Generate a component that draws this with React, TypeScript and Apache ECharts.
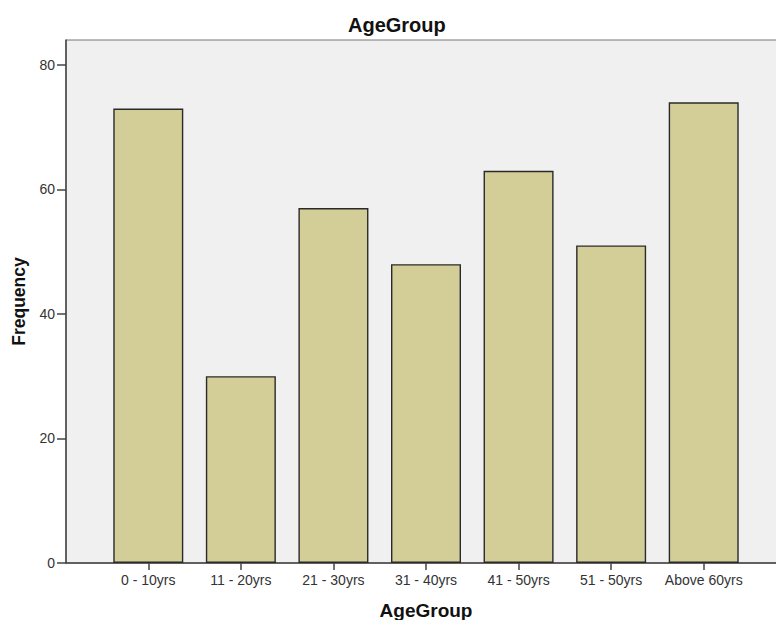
import React, { useEffect, useRef } from "react";
import * as echarts from "echarts";

const categories = ["0 - 10yrs", "11 - 20yrs", "21 - 30yrs", "31 - 40yrs", "41 - 50yrs", "51 - 50yrs", "Above 60yrs"];
const frequencies = [73, 30, 57, 48, 63, 51, 74];
const yTicks = [0, 20, 40, 60, 80];
const titleText = "AgeGroup";
const xName = "AgeGroup";
const yName = "Frequency";

const FONT = "'Liberation Sans', Arial, sans-serif";

export default function App() {
  const ref = useRef<HTMLDivElement>(null);
  useEffect(() => {
    document.body.style.margin = "0";
    const chart = echarts.init(ref.current!, null, { renderer: "svg" });
    const top = 40;
    const bottom = 57;
    chart.setOption({
      animation: false,
      textStyle: { fontFamily: FONT },
      title: {
        text: titleText,
        left: 343,
        top: 10,
        textStyle: { fontFamily: FONT, fontSize: 20, fontWeight: "bold", color: "#111" },
      },
      grid: [
        {
          left: 66, right: -5, top, bottom, outerBoundsMode: "none", containLabel: false,
          show: true, backgroundColor: "#F0F0F0", borderColor: "#777", borderWidth: 1,
        },
        { left: 102, right: 26, top, bottom, outerBoundsMode: "none", containLabel: false },
      ],
      xAxis: [
        {
          gridIndex: 0, type: "value", min: 0, max: 1,
          axisLine: { show: true, lineStyle: { color: "#444", width: 1.5 } },
          axisTick: { show: false }, axisLabel: { show: false }, splitLine: { show: false },
        },
        {
          gridIndex: 1, type: "category", data: categories,
          name: xName, nameLocation: "middle", nameGap: 38,
          nameTextStyle: { fontFamily: FONT, fontSize: 19, fontWeight: "bold", color: "#111" },
          axisLine: { show: false },
          axisTick: { show: true, alignWithLabel: true, length: 7, lineStyle: { color: "#444", width: 1.5 } },
          axisLabel: { fontFamily: FONT, fontSize: 14, color: "#333", margin: 10, interval: 0 },
        },
      ],
      yAxis: [
        {
          gridIndex: 0, type: "value", min: 0, max: 84,
          name: yName, nameLocation: "middle", nameGap: 38,
          nameTextStyle: { fontFamily: FONT, fontSize: 17.5, fontWeight: "bold", color: "#111" },
          axisLine: { show: true, lineStyle: { color: "#444", width: 1.5 } },
          axisTick: { show: true, length: 9, customValues: yTicks, lineStyle: { color: "#444", width: 1.5 } },
          axisLabel: { fontFamily: FONT, fontSize: 14, color: "#333", margin: 11, customValues: yTicks },
          splitLine: { show: false },
        },
        {
          gridIndex: 1, type: "value", min: 0, max: 84, show: false,
          splitLine: { show: false },
        },
      ],
      series: [
        {
          type: "bar",
          xAxisIndex: 1,
          yAxisIndex: 1,
          data: frequencies,
          barWidth: 70,
          itemStyle: { color: "#D3CE97", borderColor: "#2a2a2a", borderWidth: 1.4 },
        },
      ],
    });
    return () => chart.dispose();
  }, []);
  return <div ref={ref} style={{ width: 776, height: 620 }} />;
}
